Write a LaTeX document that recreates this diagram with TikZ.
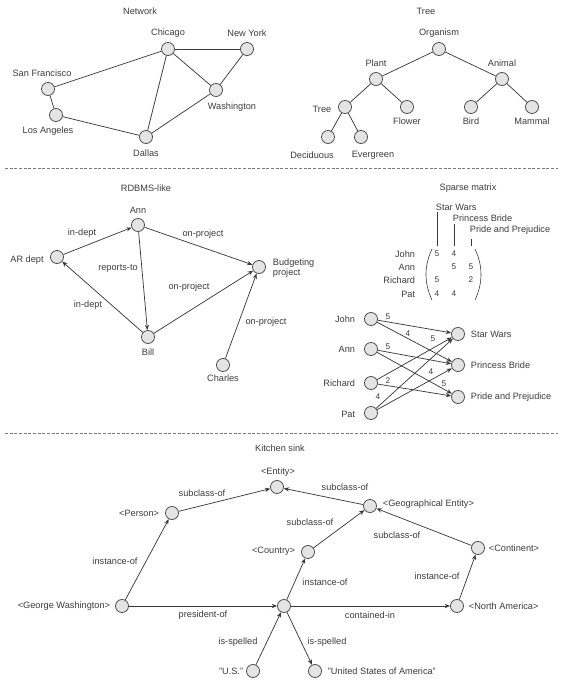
\documentclass[tikz,border=0pt]{standalone}
\usepackage{fontspec}
\setmainfont{Liberation Sans}
\usetikzlibrary{arrows.meta}
\definecolor{ink}{HTML}{3C3C3C}
\definecolor{wire}{HTML}{3A3A3A}
\definecolor{disc}{HTML}{E4E4E4}
\definecolor{rim}{HTML}{505050}
\definecolor{rulegray}{HTML}{7A7A7A}
\begin{document}
\begin{tikzpicture}[x=0.75pt,y=-0.75pt,
  v/.style={circle,draw=rim,fill=disc,line width=0.6pt,minimum size=9.8pt,inner sep=0pt},
  lbl/.style={text=ink,font=\fontsize{6.9}{8.2}\selectfont,inner sep=0.5pt},
  num/.style={text=ink,font=\fontsize{6.2}{7.5}\selectfont,inner sep=0.5pt},
  link/.style={draw=wire,line width=0.55pt},
  arc/.style={link,-{Stealth[length=4pt,width=3.2pt]}},
  divider/.style={draw=rulegray,line width=0.5pt,dash pattern=on 2.2pt off 1.3pt}]
\useasboundingbox (0,0) rectangle (563,687);

% ---------- section dividers ----------
\coordinate (d1a) at (5,168);  \coordinate (d1b) at (558,168);
\coordinate (d2a) at (5,433);  \coordinate (d2b) at (558,433);
\draw[divider] (d1a) -- (d1b);
\draw[divider] (d2a) -- (d2b);

% ---------- Network ----------
\node[lbl] (t-net) at (140,11) {Network};
\node[v] (chi) at (168,49) {};  \node[lbl] (chi-l) at (168,33) {Chicago};
\node[v] (ny)  at (247,49) {};  \node[lbl] (ny-l)  at (247,33) {New York};
\node[v] (sf)  at (48,89)  {};  \node[lbl] (sf-l)  at (42,73)  {San Francisco};
\node[v] (la)  at (56,115) {};  \node[lbl] (la-l)  at (48,131) {Los Angeles};
\node[v] (was) at (216,90) {};  \node[lbl] (was-l) at (232,107) {Washington};
\node[v] (dal) at (146,137) {}; \node[lbl] (dal-l) at (146,153) {Dallas};
\draw[link] (sf) -- (chi);
\draw[link] (sf) -- (la);
\draw[link] (la) -- (dal);
\draw[link] (chi) -- (dal);
\draw[link] (chi) -- (ny);
\draw[link] (chi) -- (was);
\draw[link] (ny) -- (was);
\draw[link] (was) -- (dal);

% ---------- Tree ----------
\node[lbl] (t-tree) at (426,11) {Tree};
\node[v] (org)  at (439,49)  {}; \node[lbl] (org-l)  at (439,33)  {Organism};
\node[v] (pla)  at (376,79)  {}; \node[lbl] (pla-l)  at (376,63)  {Plant};
\node[v] (ani)  at (502,79)  {}; \node[lbl] (ani-l)  at (502,63)  {Animal};
\node[v] (tre)  at (345,107) {}; \node[lbl] (tre-l)  at (322,109) {Tree};
\node[v] (flo)  at (407,107) {}; \node[lbl] (flo-l)  at (407,121) {Flower};
\node[v] (bir)  at (471,107) {}; \node[lbl] (bir-l)  at (471,121) {Bird};
\node[v] (mam)  at (532,107) {}; \node[lbl] (mam-l)  at (532,121) {Mammal};
\node[v] (dec)  at (328,137) {}; \node[lbl] (dec-l)  at (312,155) {Deciduous};
\node[v] (eve)  at (361,137) {}; \node[lbl] (eve-l)  at (373,155) {Evergreen};
\draw[link] (org) -- (pla);
\draw[link] (org) -- (ani);
\draw[link] (pla) -- (tre);
\draw[link] (pla) -- (flo);
\draw[link] (ani) -- (bir);
\draw[link] (ani) -- (mam);
\draw[link] (tre) -- (dec);
\draw[link] (tre) -- (eve);

% ---------- RDBMS-like ----------
\node[lbl] (t-db) at (146,188) {RDBMS-like};
\node[v] (ann) at (138,225) {}; \node[lbl] (ann-l) at (138,210) {Ann};
\node[v] (ard) at (57,257)  {}; \node[lbl] (ard-l) at (27,260)  {AR dept};
\node[v] (bud) at (259,267) {};
\node[lbl,anchor=west,align=left] (bud-l) at (272,268) {Budgeting\\[-0.6pt]project};
\node[v] (bil) at (148,337) {}; \node[lbl] (bil-l) at (148,352) {Bill};
\node[v] (cha) at (223,365) {}; \node[lbl] (cha-l) at (223,378) {Charles};
\draw[arc] (ard) -- (ann);
\draw[arc] (ann) -- (bud);
\draw[arc] (ann) -- (bil);
\draw[arc] (bil) -- (ard);
\draw[arc] (bil) -- (bud);
\draw[arc] (cha) -- (bud);
\node[lbl] (e-db1) at (82,233)  {in-dept};
\node[lbl] (e-db2) at (203,234) {on-project};
\node[lbl] (e-db3) at (118,268) {reports-to};
\node[lbl] (e-db4) at (88,305)  {in-dept};
\node[lbl] (e-db5) at (189,287) {on-project};
\node[lbl] (e-db6) at (266,322) {on-project};

% ---------- Sparse matrix ----------
\node[lbl] (t-sm) at (468,188) {Sparse matrix};
% column heads with leader lines
\node[lbl,anchor=west] (c1) at (435,207) {Star Wars};
\node[lbl,anchor=west] (c2) at (452,218) {Princess Bride};
\node[lbl,anchor=west] (c3) at (469,230) {Pride and Prejudice};
\coordinate (c1a) at (437,212); \coordinate (c1b) at (437,246);
\coordinate (c2a) at (454,224); \coordinate (c2b) at (454,246);
\coordinate (c3a) at (471,239); \coordinate (c3b) at (471,246);
\draw[link,line width=0.45pt] (c1a) -- (c1b);
\draw[link,line width=0.45pt] (c2a) -- (c2b);
\draw[link,line width=0.45pt] (c3a) -- (c3b);
% row heads
\node[lbl,anchor=east] (r1) at (416,254) {John};
\node[lbl,anchor=east] (r2) at (416,267) {Ann};
\node[lbl,anchor=east] (r3) at (416,280) {Richard};
\node[lbl,anchor=east] (r4) at (416,294) {Pat};
% parentheses
\coordinate (pl1) at (432,249); \coordinate (pl2) at (432,300);
\coordinate (pr1) at (475,249); \coordinate (pr2) at (475,300);
\draw[link,line width=0.45pt] (pl1) .. controls (424,266) and (424,283) .. (pl2);
\draw[link,line width=0.45pt] (pr1) .. controls (483,266) and (483,283) .. (pr2);
% entries
\node[num] (m11) at (437,254) {5}; \node[num] (m12) at (454,254) {4};
\node[num] (m22) at (454,267) {5}; \node[num] (m23) at (471,267) {5};
\node[num] (m31) at (437,280) {5}; \node[num] (m33) at (471,280) {2};
\node[num] (m41) at (437,294) {4}; \node[num] (m42) at (454,294) {4};

% bipartite view
\node[v] (jo) at (371,319) {}; \node[lbl,anchor=east] (jo-l) at (356,319) {John};
\node[v] (an) at (371,349) {}; \node[lbl,anchor=east] (an-l) at (356,349) {Ann};
\node[v] (ri) at (371,383) {}; \node[lbl,anchor=east] (ri-l) at (356,383) {Richard};
\node[v] (pa) at (371,413) {}; \node[lbl,anchor=east] (pa-l) at (356,414) {Pat};
\node[v] (sw) at (458,334) {}; \node[lbl,anchor=west] (sw-l) at (470,334) {Star Wars};
\node[v] (pb) at (458,365) {}; \node[lbl,anchor=west] (pb-l) at (470,365) {Princess Bride};
\node[v] (pp) at (458,397) {}; \node[lbl,anchor=west] (pp-l) at (470,397) {Pride and Prejudice};
\draw[arc] (jo) -- (sw);
\draw[arc] (jo) -- (pb);
\draw[arc] (an) -- (pb);
\draw[arc] (an) -- (pp);
\draw[arc] (ri) -- (sw);
\draw[arc] (ri) -- (pp);
\draw[arc] (pa) -- (sw);
\draw[arc] (pa) -- (pb);
\node[num] (w1) at (388,317) {5};
\node[num] (w2) at (408,334) {4};
\node[num] (w3) at (388,347) {5};
\node[num] (w4) at (444,384) {5};
\node[num] (w5) at (433,339) {5};
\node[num] (w6) at (388,381) {2};
\node[num] (w7) at (378,397) {4};
\node[num] (w8) at (431,372) {4};

% ---------- Kitchen sink ----------
\node[lbl] (t-ks) at (280,448) {Kitchen sink};
\node[v] (ent) at (277,487) {}; \node[lbl] (ent-l) at (278,472) {<Entity>};
\node[v] (per) at (172,513) {}; \node[lbl,anchor=east] (per-l) at (160,513) {<Person>};
\node[v] (gwa) at (122,606) {}; \node[lbl,anchor=east] (gwa-l) at (111,606) {<George Washington>};
\node[v] (usn) at (284,606) {};
\node[v] (cou) at (308,552) {}; \node[lbl,anchor=east] (cou-l) at (296,551) {<Country>};
\node[v] (geo) at (370,506) {}; \node[lbl,anchor=west] (geo-l) at (382,504) {<Geographical Entity>};
\node[v] (con) at (478,548) {}; \node[lbl,anchor=west] (con-l) at (488,548) {<Continent>};
\node[v] (nam) at (457,606) {}; \node[lbl,anchor=west] (nam-l) at (468,606) {<North America>};
\node[v] (usq) at (253,671) {}; \node[lbl,anchor=east] (usq-l) at (244,671) {"U.S."};
\node[v] (usa) at (315,671) {}; \node[lbl,anchor=west] (usa-l) at (327,671) {"United States of America"};
\draw[arc] (per) -- (ent);
\draw[arc] (geo) -- (ent);
\draw[arc] (cou) -- (geo);
\draw[arc] (con) -- (geo);
\draw[arc] (gwa) -- (per);
\draw[arc] (usn) -- (cou);
\draw[arc] (nam) -- (con);
\draw[arc] (gwa) -- (usn);
\draw[arc] (usn) -- (nam);
\draw[arc] (usq) -- (usn);
\draw[arc] (usn) -- (usa);
\node[lbl] (e-k1)  at (202,493) {subclass-of};
\node[lbl] (e-k2)  at (345,487) {subclass-of};
\node[lbl] (e-k3)  at (310,522) {subclass-of};
\node[lbl] (e-k4)  at (397,535) {subclass-of};
\node[lbl] (e-k5)  at (115,561) {instance-of};
\node[lbl] (e-k6)  at (325,582) {instance-of};
\node[lbl] (e-k7)  at (437,576) {instance-of};
\node[lbl] (e-k8)  at (203,615) {president-of};
\node[lbl] (e-k9)  at (370,615) {contained-in};
\node[lbl] (e-k10) at (238,642) {is-spelled};
\node[lbl] (e-k11) at (327,642) {is-spelled};
\end{tikzpicture}
\end{document}
